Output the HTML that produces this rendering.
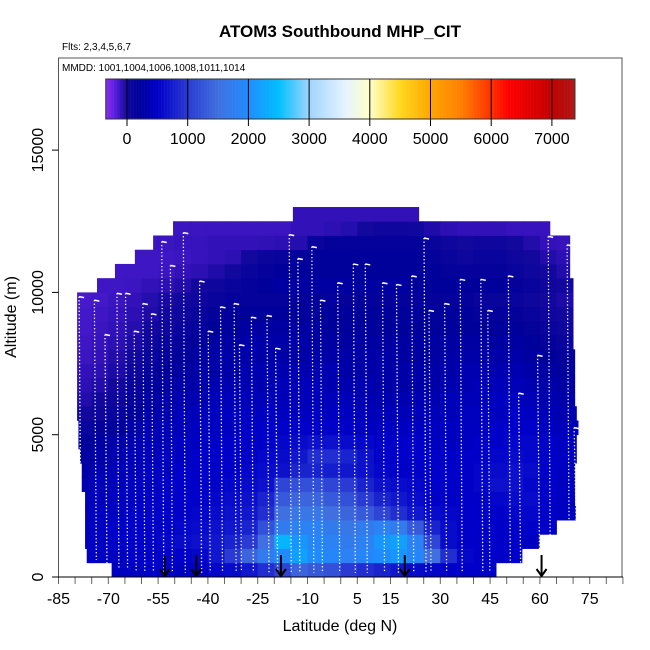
<!DOCTYPE html>
<html><head><meta charset="utf-8"><style>
html,body{margin:0;padding:0;background:#fff;}
svg{display:block;font-family:"Liberation Sans",sans-serif;}
</style></head><body>
<svg id="chart" width="650" height="650" viewBox="0 0 650 650" xmlns="http://www.w3.org/2000/svg">
<rect width="650" height="650" fill="#fff"/>
<text x="340" y="37" font-size="17" font-weight="bold" text-anchor="middle">ATOM3 Southbound MHP_CIT</text>
<text x="62" y="50" font-size="10">Flts: 2,3,4,5,6,7</text>
<g id="cells"></g>
<g id="profiles"></g>
<g id="arrows"></g>
<rect x="58.5" y="58" width="563.5" height="519" fill="none" stroke="#555" stroke-width="1"/>
<text x="62" y="71" font-size="10">MMDD: 1001,1004,1006,1008,1011,1014</text>
<g id="cbar"></g>
<g id="xaxis"></g>
<g id="yaxis"></g>
<text x="340" y="631" font-size="16" text-anchor="middle">Latitude (deg N)</text>
<text x="16" y="317" font-size="16" text-anchor="middle" transform="rotate(-90 16 317)">Altitude (m)</text>
</svg>
<script>
const latBins = [-80,-75,-70,-65,-60,-55,-50,-45,-40,-35,-30,-25,-20,-15,-10,-5,0,5,10,15,20,25,30,35,40,45,50,55,60,65,70];
const altRows = [0,500,1000,1500,2000,2500,3000,3500,4000,4500,5000,5500,6000,6500,7000,7500,8000,8500,9000,9500,10000,10500,11000,11500,12000,12500];
const rowLeft = [-69,-76.5,-77,-77,-77,-77,-78,-78,-78.5,-79,-79,-79.4,-79.4,-79.4,-79.4,-79.4,-79.4,-79.4,-79.4,-79.4,-73.4,-68,-62,-56.5,-50.5,-14.4];
const rowRight = [46.8,54.6,59.8,65,70.7,70.5,70.5,70.5,71,71,71.5,71,70.5,70.5,70.5,70.5,70,70,70,70,70,69,69,69,63,23.5];
const v0 = [450,450,450,450,500,500,450,500,550,600,700,900,1100,1400,1300,1200,1000,900,800,700,600,550,500,500,500,500,450,450,450,450,450];
const v1 = [450,450,450,500,500,500,500,550,700,1000,1400,1700,2000,2200,2000,1900,1800,1900,2000,2100,1900,1500,900,550,500,500,500,500,450,450,450];
const v2 = [450,450,500,500,500,550,600,650,700,800,1000,1500,2400,2100,1900,1800,1700,1800,2100,2200,1800,1100,600,500,500,500,500,450,450,450,450];
const v3 = [450,450,500,500,500,500,550,600,650,700,800,1200,1700,1800,1800,1700,1600,1700,1800,1700,1300,800,600,500,500,500,500,500,500,450,450];
const v4 = [400,450,450,500,500,500,500,550,600,650,700,900,1500,1600,1600,1500,1400,1300,1100,900,700,600,550,500,500,500,550,550,500,450,450];
const v5 = [400,400,450,450,500,500,500,500,550,600,650,800,1300,1400,1400,1300,1200,1000,800,700,600,500,500,500,500,550,600,600,500,450,450];
const v6 = [350,400,400,450,450,500,500,500,500,550,600,650,1100,1200,1200,1100,1000,800,650,600,550,500,500,500,550,650,650,550,500,450,450];
const v7 = [300,350,400,400,450,450,500,500,500,500,550,600,650,800,800,750,700,650,550,500,500,500,500,500,550,600,650,600,500,450,450];
const v8 = [250,300,350,400,400,450,450,500,500,500,500,550,600,700,900,900,800,650,500,500,500,500,500,500,500,550,600,550,500,450,450];
const v9 = [200,250,300,350,400,400,450,450,500,500,500,500,550,600,650,650,600,550,500,500,500,450,450,450,500,500,550,550,500,450,450];
const v10 = [100,150,200,300,350,400,400,450,450,450,500,500,500,500,500,500,500,450,450,450,450,450,450,450,450,500,500,500,450,400,400];
const v11 = [0,50,100,200,300,350,400,400,450,450,450,450,450,450,450,450,450,400,400,400,400,400,400,450,450,450,500,450,400,350,350];
const v12 = [-50,0,50,150,250,300,350,350,400,400,400,400,400,400,400,400,400,350,350,350,350,350,400,400,400,450,450,400,350,300,300];
const v13 = [-80,-50,0,100,200,250,300,300,350,350,350,350,400,400,400,350,350,350,300,300,300,300,350,350,400,400,400,350,300,250,250];
const v14 = [-100,-80,-30,50,150,200,250,300,300,300,350,350,350,350,350,350,300,300,300,300,300,300,300,350,350,350,350,300,250,200,200];
const v15 = [-120,-100,-50,0,100,150,200,250,300,300,300,300,300,300,300,300,300,300,300,250,250,250,300,300,300,300,300,250,200,150,150];
const v16 = [-130,-110,-80,-30,50,100,150,200,250,250,300,300,300,300,250,250,250,250,250,250,250,250,250,250,250,250,250,200,150,100,100];
const v17 = [-140,-120,-100,-60,0,50,100,150,200,200,250,250,250,250,250,200,200,200,200,200,200,200,200,200,200,200,200,150,100,50,50];
const v18 = [-140,-130,-110,-80,-40,0,50,100,150,200,200,200,200,200,200,200,200,200,200,200,200,200,200,200,150,150,150,100,50,0,0];
const v19 = [-150,-140,-120,-100,-60,-20,0,50,100,150,150,150,150,150,150,150,150,150,150,150,150,150,150,150,100,100,100,50,0,-30,-30];
const v20 = [-130,-130,-130,-120,-100,-80,-50,0,50,100,150,200,250,250,250,250,250,250,250,250,200,200,200,200,200,200,150,100,50,0,0];
const v21 = [-130,-130,-130,-130,-130,-120,-100,-80,-40,0,100,150,200,200,200,200,200,200,200,200,200,200,150,150,150,150,100,50,0,-50,-50];
const v22 = [-130,-130,-130,-130,-130,-130,-120,-110,-100,-80,0,80,100,150,200,200,200,200,200,200,200,150,100,50,100,100,50,0,-50,-80,-100];
const v23 = [-120,-120,-120,-120,-120,-120,-110,-110,-100,-100,-100,-90,-80,-60,100,150,150,150,150,150,150,100,50,0,50,50,0,-50,-100,-110,-110];
const v24 = [-120,-120,-120,-120,-120,-120,-120,-120,-120,-120,-120,-120,-120,-100,-100,-80,-60,0,50,50,20,-40,-80,-100,-100,-100,-110,-110,-110,-110,-110];
const v25 = [-100,-100,-100,-100,-100,-100,-100,-100,-100,-100,-100,-100,-100,-100,-100,-100,-100,-100,-100,-100,-100,-100,-100,-100,-100,-100,-100,-100,-100,-100,-100];
const grid = [v0,v1,v2,v3,v4,v5,v6,v7,v8,v9,v10,v11,v12,v13,v14,v15,v16,v17,v18,v19,v20,v21,v22,v23,v24,v25];
const profLat = [-78.8,-74.2,-71,-67.4,-64.8,-62.2,-59.6,-57,-53.9,-51.3,-47.4,-42.5,-39.9,-36.2,-32.1,-30.5,-26.9,-22.2,-19.6,-15.5,-12.9,-8.7,-6.1,-0.9,3.8,7.4,12.6,16.8,21.4,25.1,26.6,31.3,36,42.2,44.3,50.5,53.6,59.3,62.5,68.2,70.3];
const profTop = [9850,9730,8520,9970,9970,8640,9610,9250,11790,10950,12100,10400,8640,9490,9610,8160,9130,9190,8040,12030,11190,11610,9730,10340,11000,11000,10340,10280,10580,11910,9370,9610,10460,10460,9370,10580,6460,7790,11970,11670,5250];
const profBot = [700,600,400,300,300,200,200,200,150,150,150,150,150,150,200,200,150,150,150,150,150,150,150,150,150,150,150,150,150,150,150,150,200,200,200,200,400,600,1000,1500,2000];
const arrowLat = [-53,-43.5,-18,19.3,60.5];
const xTickLabels = [-85,-70,-55,-40,-25,-10,5,15,30,45,60,75];
const yTickLabels = [0,5000,10000,15000];
const cbarTicks = [0,1000,2000,3000,4000,5000,6000,7000];
const cbarMin = -350, cbarMax = 7380;

const stops=[[-350,'#8a2cf0'],[-200,'#5a20e0'],[-100,'#3212b8'],[0,'#12089e'],[200,'#00009a'],[500,'#0000c8'],[1000,'#2a3ad2'],[1500,'#4070e0'],[2000,'#1e8cff'],[2500,'#00bfff'],[3000,'#9fd4ff'],[3600,'#e6f3ff'],[4000,'#ffffc8'],[4500,'#ffd820'],[5000,'#ffa500'],[5500,'#ff8000'],[6000,'#ff3000'],[6300,'#ff0000'],[7000,'#c00000'],[7380,'#b01818']];
function hex(h){return [parseInt(h.substr(1,2),16),parseInt(h.substr(3,2),16),parseInt(h.substr(5,2),16)];}
function cmap(v){
  if(v<=stops[0][0]) return stops[0][1];
  for(let i=1;i<stops.length;i++){ if(v<=stops[i][0]){const a=hex(stops[i-1][1]),b=hex(stops[i][1]);const t=(v-stops[i-1][0])/(stops[i][0]-stops[i-1][0]);return 'rgb('+a.map((c,k)=>Math.round(c+(b[k]-c)*t)).join(',')+')';}}
  return stops[stops.length-1][1];
}
const X=lat=>58.5+(lat+85)*3.32;
const Y=alt=>577-alt*0.02846;
const CX=v=>127+v*0.0607;
const NS='http://www.w3.org/2000/svg';
function mk(tag,attrs,parent){const e=document.createElementNS(NS,tag);for(const k in attrs)e.setAttribute(k,attrs[k]);parent.appendChild(e);return e;}

const cells=document.getElementById('cells');
altRows.forEach((alt,r)=>{
  latBins.forEach((lat,c)=>{
    const l=Math.max(lat,rowLeft[r]), rt=Math.min(lat+5,rowRight[r]);
    if(rt<=l) return;
    const e=mk('rect',{x:X(l),y:Y(alt+500),width:X(rt)-X(l)+0.4,height:Y(alt)-Y(alt+500)+0.4,fill:cmap(grid[r][c])},cells);
    
    
  });
});
const prof=document.getElementById('profiles');
profLat.forEach((lat,i)=>{
  const e=mk('line',{x1:X(lat),y1:Y(profTop[i]),x2:X(lat)+2,y2:Y(profBot[i]),stroke:'#fff','stroke-width':1.3,'stroke-dasharray':'1.3 2.2'},prof);
  
  
  const h=mk('line',{x1:X(lat),y1:Y(profTop[i]),x2:X(lat)+5,y2:Y(profTop[i])+1,stroke:'#fff','stroke-width':1.5},prof);
  
  
});
const arr=document.getElementById('arrows');
arrowLat.forEach(lat=>{
  const g=mk('g',{},arr);
  
  
  const x=X(lat);
  mk('line',{x1:x,y1:555,x2:x,y2:576,stroke:'#000','stroke-width':2},g);
  mk('polyline',{points:(x-5)+',569 '+x+',576 '+(x+5)+',569',fill:'none',stroke:'#000','stroke-width':2},g);
});
const cb=document.getElementById('cbar');
for(let v=cbarMin;v<cbarMax;v+=10){
  mk('rect',{x:CX(v),y:79,width:CX(10)-CX(0)+0.3,height:40,fill:cmap(v+5)},cb);
}
mk('rect',{x:CX(cbarMin),y:79,width:CX(cbarMax)-CX(cbarMin),height:40,fill:'none',stroke:'#333','stroke-width':1},cb);
cbarTicks.forEach(v=>{
  mk('line',{x1:CX(v),y1:79,x2:CX(v),y2:126,stroke:'#000','stroke-width':1},cb);
  const t=mk('text',{x:CX(v),y:144,'font-size':16,'text-anchor':'middle'},cb);
  t.textContent=v;
  
  
});
const xa=document.getElementById('xaxis');
for(let lat=-85;lat<=85;lat+=5){ mk('line',{x1:X(lat),y1:577,x2:X(lat),y2:584,stroke:'#666','stroke-width':1},xa); }
mk('line',{x1:X(-85),y1:577,x2:X(85),y2:577,stroke:'#000','stroke-width':1},xa);
xTickLabels.forEach(lat=>{
  const t=mk('text',{x:X(lat),y:604,'font-size':16,'text-anchor':'middle'},xa);
  t.textContent=lat;
  
  
});
const ya=document.getElementById('yaxis');
yTickLabels.forEach(v=>{
  mk('line',{x1:52,y1:Y(v),x2:58.5,y2:Y(v),stroke:'#000','stroke-width':1},ya);
  const t=mk('text',{x:43,y:Y(v),'font-size':16,'text-anchor':'middle',transform:'rotate(-90 43 '+Y(v)+')'},ya);
  t.textContent=v;
  
  
});
</script>
</body></html>
